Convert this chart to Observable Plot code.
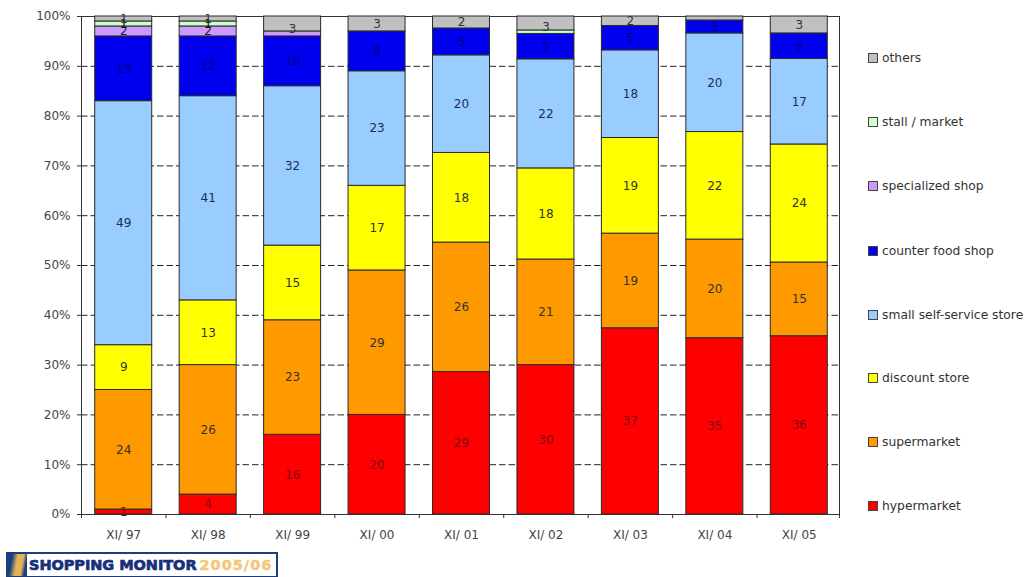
<!DOCTYPE html>
<html>
<head>
<meta charset="utf-8">
<script src="https://cdn.jsdelivr.net/npm/d3@7"></script>
<script src="https://cdn.jsdelivr.net/npm/@observablehq/plot@0.6"></script>
<style>
  html, body { margin: 0; padding: 0; background: #fff; overflow: hidden; }
  #page { position: relative; width: 1026px; height: 577px; font-family: "DejaVu Sans", sans-serif; }
  #page svg { display: block; }
  .key { position: absolute; left: 868px; height: 16px; display: flex; align-items: center; font-size: 12.3px; color: #333; white-space: nowrap; }
  .key i { display: block; box-sizing: border-box; width: 10px; height: 10px; margin-right: 4px; border: 1px solid #444; }
  #logo { position: absolute; left: 6px; top: 552px; width: 272px; height: 25px; box-sizing: border-box; border: 2px solid #1c3f7c; border-bottom-width: 1px; background: #fff; display: flex; align-items: center; font: 900 14.5px "DejaVu Sans", sans-serif; white-space: nowrap; overflow: hidden; }
  #logo b { display: block; flex: none; width: 19px; height: 100%; margin-right: 2px; background: linear-gradient(100deg, #1c3f7c 20%, #e3b25a 45%, #e3b25a 70%, #1c3f7c 85%); }
  #logo span { color: #16307a; letter-spacing: -0.05px; -webkit-text-stroke: 0.7px #16307a; }
  #logo em { font-style: normal; color: #f3c77c; margin-left: 3px; letter-spacing: 1px; -webkit-text-stroke: 0.5px #f3c77c; }
</style>
</head>
<body>
<div id="page"></div>
<script>
// Where shoppers bought, share of purchases per survey wave (percent)
const waves = ["XI/ 97", "XI/ 98", "XI/ 99", "XI/ 00", "XI/ 01", "XI/ 02", "XI/ 03", "XI/ 04", "XI/ 05"];

const hypermarket = [1, 4, 16, 20, 28.6, 30, 37.4, 35.4, 35.8];
const supermarket = [24, 26, 23, 29, 26, 21.2, 19, 19.8, 14.8];
const discountStore = [9, 13, 15, 17, 18, 18.3, 19.2, 21.6, 23.7];
const smallSelfService = [49, 41, 32, 23, 19.6, 21.9, 17.6, 19.8, 17.2];
const counterFoodShop = [13, 12, 10, 8, 5.4, 5.1, 4.9, 2.6, 5.1];
const specializedShop = [2, 2, 1, 0, 0, 0, 0, 0, 0];
const stallMarket = [1, 1, 0, 0, 0, 0.7, 0, 0, 0];
const others = [1, 1, 3, 3, 2.4, 2.8, 1.9, 0.8, 3.4];

const seriesNames = ["hypermarket", "supermarket", "discount store", "small self-service store",
  "counter food shop", "specialized shop", "stall / market", "others"];
const seriesValues = [hypermarket, supermarket, discountStore, smallSelfService,
  counterFoodShop, specializedShop, stallMarket, others];
const seriesColors = ["#ff0000", "#ff9900", "#ffff00", "#99ccff", "#0000ee", "#cc99ff", "#ccffcc", "#c0c0c0"];
const labelColors = ["#7d0a14", "#333333", "#333333", "#1b2f55", "#00007d", "#222222", "#111111", "#333333"];
const percentTicks = [0, 10, 20, 30, 40, 50, 60, 70, 80, 90, 100];

// Slices too thin to carry a number in the chart
const unlabeled = [["XI/ 99", "specialized shop"], ["XI/ 02", "stall / market"], ["XI/ 04", "others"]];

const rows = seriesNames.flatMap((series, s) =>
  waves.map((wave, w) => ({wave, series, value: seriesValues[s][w], ink: labelColors[s]}))
).filter((d) => d.value > 0);

const labelled = rows.filter((d) => !unlabeled.some(([w, s]) => w === d.wave && s === d.series));

const margin = {left: 81, right: 185, top: 16, bottom: 63};
const width = 1026, height = 577;
const step = (width - margin.left - margin.right) / waves.length;
const stacking = {x: "wave", y: "value", z: "series", order: seriesNames};

const chart = Plot.plot({
  width, height,
  marginLeft: margin.left, marginRight: margin.right, marginTop: margin.top, marginBottom: margin.bottom,
  style: {fontFamily: '"DejaVu Sans", sans-serif', fontSize: "12px", color: "#444", background: "#fff"},
  x: {domain: waves, paddingInner: 0.325, paddingOuter: 0.1625, round: false, label: null},
  y: {domain: [0, 100], label: null},
  color: {domain: seriesNames, range: seriesColors},
  marks: [
    // The plot box stops a little short of the last band's edge
    Plot.ruleY(percentTicks, {stroke: "#222", strokeWidth: 1, strokeDasharray: "6.5 3", insetRight: 2}),
    Plot.frame({stroke: "#333", insetRight: 2}),
    Plot.barY(rows, Plot.stackY({...stacking, fill: "series", stroke: "#2a2a2a", strokeWidth: 1})),
    Plot.text(labelled, Plot.stackY({
      ...stacking,
      text: (d) => d3.format(".0f")(d.value),
      fill: "ink",
      fontSize: 12
    })),
    Plot.axisY({ticks: percentTicks, tickFormat: (d) => `${d}%`, tickSize: 4, tickPadding: 7, stroke: "#333", fontSize: 12}),
    Plot.axisX({tickSize: 0, tickPadding: 16, fontSize: 12}),
    // Category separators sit on the band edges rather than band centres
    Plot.axisX({ticks: waves.slice(0, -1), tickSize: 4, tickFormat: () => "", dx: step / 2, stroke: "#333"}),
    Plot.axisX({ticks: waves.slice(0, 1), tickSize: 4, tickFormat: () => "", dx: -step / 2, stroke: "#333"}),
    Plot.axisX({ticks: waves.slice(-1), tickSize: 4, tickFormat: () => "", dx: step / 2 - 2, stroke: "#333"})
  ]
});

const page = document.getElementById("page");
page.appendChild(chart);

// Legend: top series first, evenly spaced down the right side
const keyTops = [50, 114, 178, 243, 307, 370, 434, 498];
seriesNames.slice().reverse().forEach((name, i) => {
  const key = document.createElement("div");
  key.className = "key";
  key.style.top = keyTops[i] + "px";
  const swatch = document.createElement("i");
  swatch.style.background = seriesColors[seriesColors.length - 1 - i];
  key.appendChild(swatch);
  key.appendChild(document.createTextNode(name));
  page.appendChild(key);
});

// Report banner under the chart
const logo = document.createElement("div");
logo.id = "logo";
logo.innerHTML = "<b></b><span>SHOPPING MONITOR</span><em>2005/06</em>";
page.appendChild(logo);
</script>
</body>
</html>
